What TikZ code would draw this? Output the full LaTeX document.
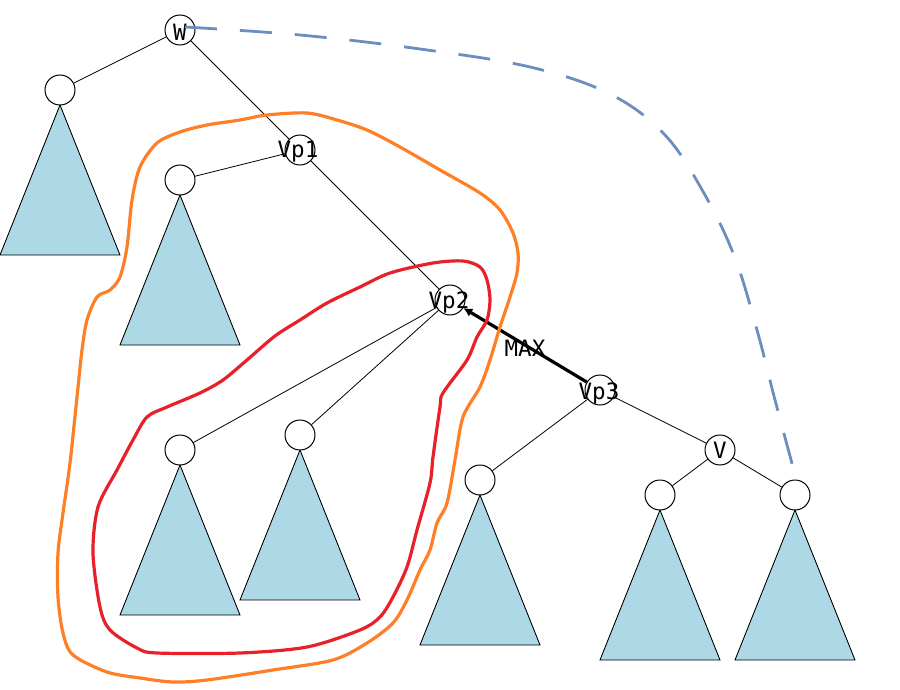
\documentclass[tikz,border=0pt]{standalone}
\usepackage{fontspec}
\newfontfamily\lblfont{DejaVu Sans Mono}
\usetikzlibrary{arrows.meta}
\definecolor{subtree}{HTML}{ADD8E6}
\definecolor{hullred}{HTML}{E8202A}
\definecolor{hullorange}{HTML}{FF7F27}
\definecolor{linkblue}{HTML}{6C8EBF}
\tikzset{
  vtx/.style={circle, draw, fill=white, line width=1pt, minimum size=30pt, inner sep=0pt},
  lbl/.style={inner sep=0pt, text height=16pt, text depth=0pt, font=\lblfont\fontsize{22.5}{26}\selectfont},
  edge/.style={line width=0.8pt},
  subtri/.style={fill=subtree, draw, line width=0.9pt},
  hull/.style={line width=3.2pt, line join=round, line cap=round},
}
\begin{document}
\begin{tikzpicture}[x=1pt, y=-1pt]
\useasboundingbox (0,0) rectangle (900,690);

% subtrees hanging below the leaf roots
\foreach \cx/\cy in {60/90, 180/180, 180/450, 300/435, 480/480, 660/495, 795/495}
  \draw[subtri] (\cx,\cy+15) -- (\cx+60,\cy+165) -- (\cx-60,\cy+165) -- cycle;

% vertices
\node[vtx] (w)   at (180,30)  {};
\node[vtx] (l1)  at (60,90)   {};
\node[vtx] (vp1) at (300,150) {};
\node[vtx] (l2)  at (180,180) {};
\node[vtx] (vp2) at (450,300) {};
\node[vtx] (l3)  at (180,450) {};
\node[vtx] (l4)  at (300,435) {};
\node[vtx] (vp3) at (600,390) {};
\node[vtx] (l5)  at (480,480) {};
\node[vtx] (v)   at (720,450) {};
\node[vtx] (l6)  at (660,495) {};
\node[vtx] (l7)  at (795,495) {};

% tree edges
\draw[edge] (w) -- (l1);
\draw[edge] (w) -- (vp1);
\draw[edge] (vp1) -- (l2);
\draw[edge] (vp1) -- (vp2);
\draw[edge] (vp2) -- (l3);
\draw[edge] (vp2) -- (l4);
\draw[edge] (vp3) -- (l5);
\draw[edge] (vp3) -- (v);
\draw[edge] (v) -- (l6);
\draw[edge] (v) -- (l7);

% heavy edge towards Vp2
\draw[line width=3.2pt, {Latex[length=9pt,width=9pt]}-] (vp2) -- (vp3);
\node[lbl] (max) at (525,348) {MAX};

% labels
\node[lbl] at (180,33) {W};
\node[lbl] at (298,150) {Vp1};
\node[lbl] at (449,300) {Vp2};
\node[lbl] at (599,391) {Vp3};
\node[lbl] at (720,450) {V};

% outer hull around the Vp1 subtree
\draw[hull, hullorange] plot[smooth cycle, tension=0.5] coordinates {
 (87,320) (97,297) (110,290) (120,277) (127,247) (132,200) (140,167) (157,143)
 (180,132) (207,125) (240,120) (267,115) (307,113) (337,120) (367,130) (400,147)
 (440,170) (480,193) (500,210) (513,233) (518,253) (517,273) (510,297) (500,327)
 (490,360) (480,387) (463,417) (455,460) (447,503) (437,523) (430,550) (420,570)
 (407,600) (393,623) (367,643) (333,660) (273,670) (207,680) (173,682) (140,678)
 (107,672) (73,655) (63,633) (58,597) (58,553) (63,513) (70,463) (77,397) (82,350)};

% inner hull around the Vp2 subtree
\draw[hull, hullred] plot[smooth cycle, tension=0.5] coordinates {
 (463,261) (480,267) (487,280) (490,300) (487,320) (477,337) (467,360) (443,393)
 (440,407) (433,457) (430,483) (417,530) (407,567) (393,597) (380,617) (360,630)
 (307,647) (240,653) (157,653) (137,648) (110,630) (100,607) (93,553) (98,507)
 (117,470) (133,440) (147,417) (167,407) (200,393) (223,380) (247,360) (275,336)
 (300,320) (327,303) (360,287) (390,273) (433,263)};

% dashed link from W to the rightmost leaf
\coordinate (ws) at (185,27);
\coordinate (le) at (797,482);
\draw[linkblue, line width=2.8pt, dash pattern=on 32pt off 23pt] plot[smooth, tension=0.6] coordinates {
 (ws) (300,35) (420,49) (530,67) (610,94) (665,135) (705,195) (735,258) (757,330) (775,400) (le)};
\end{tikzpicture}
\end{document}
